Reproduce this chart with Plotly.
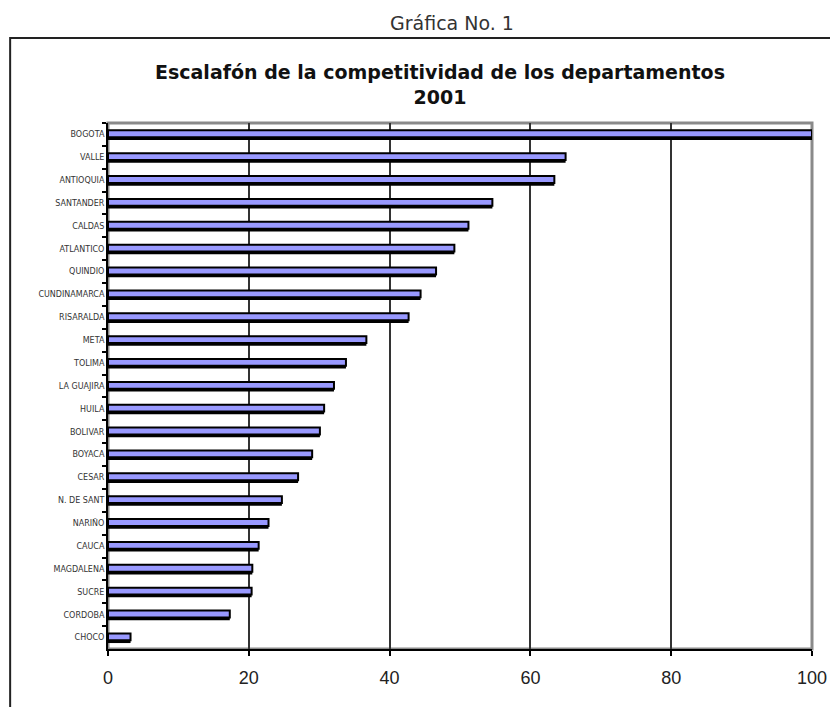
import plotly.graph_objects as go

departamentos = ['BOGOTA', 'VALLE', 'ANTIOQUIA', 'SANTANDER', 'CALDAS', 'ATLANTICO',
                 'QUINDIO', 'CUNDINAMARCA', 'RISARALDA', 'META', 'TOLIMA', 'LA GUAJIRA',
                 'HUILA', 'BOLIVAR', 'BOYACA', 'CESAR', 'N. DE SANT', 'NARIÑO', 'CAUCA',
                 'MAGDALENA', 'SUCRE', 'CORDOBA', 'CHOCO']
puntaje = [100, 65.0, 63.4, 54.6, 51.2, 49.2, 46.6, 44.4, 42.7, 36.7, 33.8, 32.1,
           30.7, 30.1, 29.0, 27.0, 24.7, 22.8, 21.4, 20.5, 20.4, 17.3, 3.2]
x_ticks = [0, 20, 40, 60, 80, 100]

fig = go.Figure()
# black "shadow" under each bar, like the old Excel look
fig.add_trace(go.Bar(
    x=puntaje, y=departamentos, orientation='h',
    width=0.32, offset=-0.08,
    marker=dict(color='black', line=dict(width=0)),
    hoverinfo='skip', showlegend=False
))
fig.add_trace(go.Bar(
    x=puntaje, y=departamentos, orientation='h',
    width=0.3, offset=-0.18,
    marker=dict(color='#9999ff', line=dict(color='black', width=2)),
    showlegend=False
))

# page body adds 8px, so margins are shifted to keep the plot where it should be
fig.update_layout(
    width=838, height=707,
    margin=dict(l=100, r=34, t=115, b=66),
    paper_bgcolor='white', plot_bgcolor='white',
    barmode='overlay',
    font=dict(family='Liberation Sans, Arial, sans-serif', color='#111'),
    xaxis=dict(
        range=[0, 100], tickvals=x_ticks, ticks='outside', ticklen=5,
        tickwidth=2, tickcolor='black', showline=True, linecolor='black',
        linewidth=2, showgrid=True, gridcolor='#333', gridwidth=2,
        zeroline=False, tickfont=dict(size=18, color='#222'),
        ticklabelstandoff=6
    ),
    yaxis=dict(
        autorange='reversed', ticks='outside', tickson='boundaries', ticklen=4,
        tickwidth=2, tickcolor='black', showline=True, linecolor='black',
        linewidth=2, showgrid=False,
        tickfont=dict(size=8, color='#333', family='DejaVu Sans')
    ),
    shapes=[
        # plot area border (grey)
        dict(type='rect', xref='paper', yref='paper', x0=0, x1=1, y0=0, y1=1,
             line=dict(color='#8a8a8a', width=3), layer='below'),
        # outer frame
        dict(type='rect', xref='paper', yref='paper', x0=-0.139, x1=1.1,
             y0=-0.16, y1=1.1616, line=dict(color='#222', width=2)),
    ],
    annotations=[
        dict(text='Gráfica No. 1', xref='paper', yref='paper', x=0.4886, y=1.19,
             xanchor='center', yanchor='middle', showarrow=False,
             font=dict(size=19, color='#333', family='DejaVu Sans')),
        dict(text='<b>Escalafón de la competitividad de los departamentos<br>2001</b>',
             xref='paper', yref='paper', x=0.4716, y=1.074,
             xanchor='center', yanchor='middle', showarrow=False,
             font=dict(size=19, color='#111', family='DejaVu Sans')),
    ],
)

fig.write_html('out.html')
